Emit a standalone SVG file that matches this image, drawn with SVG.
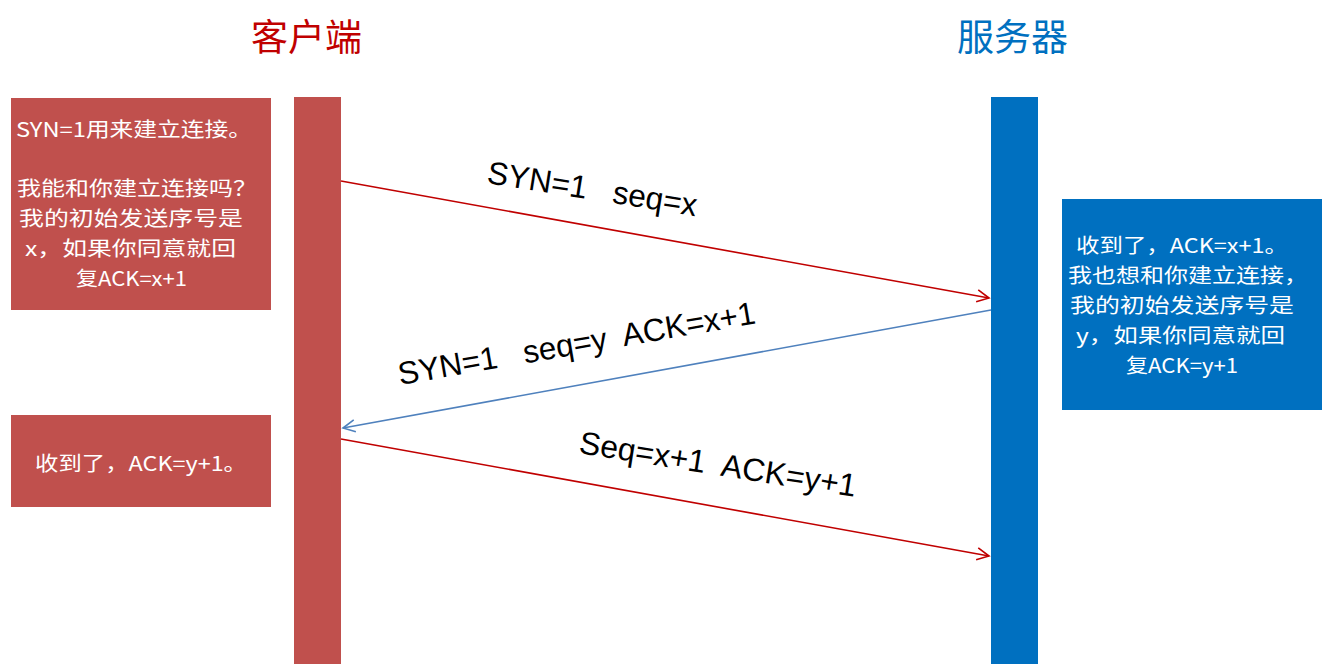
<svg xmlns="http://www.w3.org/2000/svg" width="1332" height="664" viewBox="0 0 1332 664">
<style>
.redbox{fill:#C0504D}
.bluebox{fill:#0070C0}
.bt{font-family:"Noto Sans CJK SC","Liberation Sans",sans-serif;font-size:20px;fill:#FFFFFF}
.title{font-family:"Noto Sans CJK SC",serif;font-size:37px}
.lbl{font-family:"Liberation Sans","Noto Sans CJK SC",sans-serif;font-size:32px;fill:#000000;white-space:pre}
.red{stroke:#C00000;stroke-width:1.6;fill:none}
.blue{stroke:#4F81BD;stroke-width:1.6;fill:none}
</style>
<defs>
<marker id="ahr" markerUnits="userSpaceOnUse" markerWidth="16" markerHeight="16" viewBox="0 0 16 16" refX="14" refY="8" orient="auto">
<path d="M2,2 L14,8 L2,14" fill="none" stroke="#C00000" stroke-width="1.6"/>
</marker>
<marker id="ahb" markerUnits="userSpaceOnUse" markerWidth="16" markerHeight="16" viewBox="0 0 16 16" refX="14" refY="8" orient="auto">
<path d="M2,2 L14,8 L2,14" fill="none" stroke="#4F81BD" stroke-width="1.6"/>
</marker>
</defs>
<rect width="1332" height="664" fill="#FFFFFF"/>
<g id="title-client"><text class="title" x="251" y="51" fill="#C00000">客户端</text></g>
<g id="title-server"><text class="title" x="957" y="51" fill="#0070C0">服务器</text></g>
<g id="client-bar"><rect class="redbox" x="294" y="97" width="47" height="567"/></g>
<g id="server-bar"><rect class="bluebox" x="991" y="97" width="47" height="567"/></g>
<g id="client-note-1">
<rect class="redbox" x="11" y="98" width="260" height="212"/>
<text class="bt" x="16" y="137" textLength="236" lengthAdjust="spacingAndGlyphs">SYN=1用来建立连接。</text>
<text class="bt" x="17" y="196" textLength="240" lengthAdjust="spacingAndGlyphs">我能和你建立连接吗？</text>
<text class="bt" x="19" y="226" textLength="224" lengthAdjust="spacingAndGlyphs">我的初始发送序号是</text>
<text class="bt" x="25" y="256" textLength="211" lengthAdjust="spacingAndGlyphs">x，如果你同意就回</text>
<text class="bt" x="76" y="286" textLength="111" lengthAdjust="spacingAndGlyphs">复ACK=x+1</text>
</g>
<g id="server-note">
<rect class="bluebox" x="1062" y="199" width="260" height="211"/>
<text class="bt" x="1076" y="253" textLength="212" lengthAdjust="spacingAndGlyphs">收到了，ACK=x+1。</text>
<text class="bt" x="1068" y="283" textLength="240" lengthAdjust="spacingAndGlyphs">我也想和你建立连接，</text>
<text class="bt" x="1070" y="313" textLength="224" lengthAdjust="spacingAndGlyphs">我的初始发送序号是</text>
<text class="bt" x="1076" y="343" textLength="209" lengthAdjust="spacingAndGlyphs">y，如果你同意就回</text>
<text class="bt" x="1126" y="373" textLength="112" lengthAdjust="spacingAndGlyphs">复ACK=y+1</text>
</g>
<g id="client-note-2">
<rect class="redbox" x="11" y="415" width="260" height="92"/>
<text class="bt" x="35" y="471" textLength="212" lengthAdjust="spacingAndGlyphs">收到了，ACK=y+1。</text>
</g>
<g id="connectors">
<line class="red" x1="341" y1="181" x2="989" y2="298" marker-end="url(#ahr)"/>
<line class="blue" x1="991" y1="310" x2="343" y2="428" marker-end="url(#ahb)"/>
<line class="red" x1="341" y1="439" x2="989" y2="556" marker-end="url(#ahr)"/>
</g>
<g id="labels">
<text class="lbl" transform="translate(486,183) rotate(9)" textLength="212" lengthAdjust="spacingAndGlyphs">SYN=1   seq=x</text>
<text class="lbl" transform="translate(400,385) rotate(-9.8)" textLength="362" lengthAdjust="spacingAndGlyphs">SYN=1   seq=y  ACK=x+1</text>
<text class="lbl" transform="translate(578,453) rotate(9)" textLength="280" lengthAdjust="spacingAndGlyphs">Seq=x+1  ACK=y+1</text>
</g>
</svg>
